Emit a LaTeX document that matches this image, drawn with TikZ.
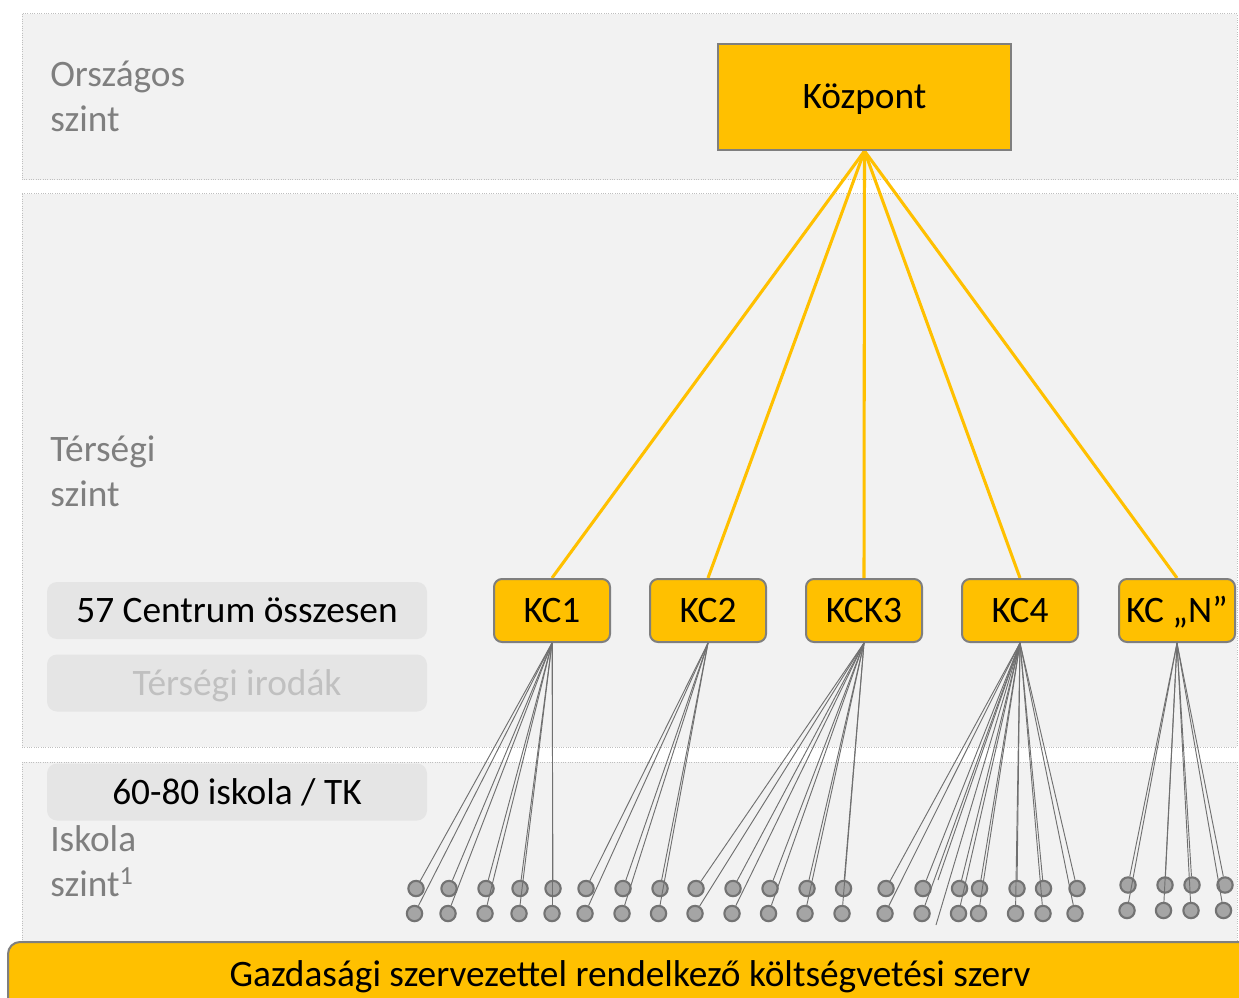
\documentclass[tikz,border=0pt]{standalone}
\usepackage{fontspec}
\setmainfont{Carlito}
\definecolor{gold}{HTML}{FFC000}
\definecolor{bandfill}{HTML}{F2F2F2}
\definecolor{banddot}{HTML}{BFBFBF}
\definecolor{boxgray}{HTML}{E5E5E5}
\definecolor{lblgray}{HTML}{7F7F7F}
\definecolor{lightlbl}{HTML}{C0C0C0}
\definecolor{edgegray}{HTML}{7F7F7F}
\definecolor{dotfill}{HTML}{A5A5A5}
\definecolor{dotedge}{HTML}{737373}
\definecolor{twiggray}{HTML}{707070}
\pgfdeclarelayer{bglayer}
\pgfdeclarelayer{midlayer}
\pgfsetlayers{bglayer,midlayer,main}
\tikzset{
  band/.style={fill=bandfill, draw=banddot, densely dotted, line width=0.75pt},
  bigfont/.style={font=\fontsize{28}{34}\selectfont},
  boxtext/.style={bigfont, text height=18pt, text depth=0pt, inner sep=0pt},
  hubbox/.style={boxtext, draw=edgegray, fill=gold, line width=1.5pt, minimum width=219.75pt, minimum height=79.5pt},
  kcbox/.style={boxtext, draw=edgegray, fill=gold, line width=1.5pt, rounded corners=6pt, minimum width=87pt, minimum height=47.25pt},
  infobox/.style={boxtext, fill=boxgray, rounded corners=7.5pt, minimum width=285pt, minimum height=42.75pt},
  levellbl/.style={bigfont, text=lblgray, anchor=base west, inner sep=0pt},
  trunk/.style={draw=gold, line width=2.3pt},
  twig/.style={draw=twiggray, line width=0.7pt},
  school/.style={circle, draw=dotedge, fill=dotfill, line width=1.6pt, minimum size=11.5pt, inner sep=0pt},
  barbox/.style={draw=edgegray, fill=gold, line width=1.5pt, rounded corners=9pt, minimum width=933pt, minimum height=58.5pt, inner sep=0pt}
}
\begin{document}
\begin{tikzpicture}[x=0.75pt,y=-0.75pt]
\useasboundingbox (0,0) rectangle (1239,998);
\begin{pgfonlayer}{bglayer}
\fill[white] (0,0) rectangle (1239,998);
\draw[band] (22,14) rectangle (1237,180);
\draw[band] (22,194) rectangle (1237,747);
\draw[band] (22,762) rectangle (1237,952);
\end{pgfonlayer}
% level labels
\node[levellbl] (lo1) at (50,87) {Országos};
\node[levellbl] (lo2) at (50,131.5) {szint};
\node[levellbl] (lt1) at (50,461) {Térségi};
\node[levellbl] (lt2) at (50,506) {szint};
\node[levellbl] (li1) at (50,851.5) {Iskola};
\node[levellbl] (li2) at (50,896.5) {szint\textsuperscript{1}};
% info boxes
\node[infobox] (ib1) at (237,610.5) {57 Centrum összesen};
\node[infobox, text=lightlbl] (ib2) at (237,683) {Térségi irodák};
\node[infobox] (ib3) at (237,792) {60-80 iskola / TK};
% central and centres
\node[hubbox] (kp) at (864.5,97) {Központ};
\node[kcbox] (kc1) at (552,610.5) {KC1};
\node[kcbox] (kc2) at (708,610.5) {KC2};
\node[kcbox] (kc3) at (864,610.5) {KCK3};
\node[kcbox] (kc4) at (1020,610.5) {KC4};
\node[kcbox] (kcn) at (1177,610.5) {KC „N”};
\begin{pgfonlayer}{midlayer}
\foreach \k in {kc1,kc2,kc3,kc4,kcn} \draw[trunk] (kp.south) -- (\k.north);
\end{pgfonlayer}
% schools
\foreach \n/\x/\y in {
  a1/416/888.5, a2/449/888.5, a3/486/888.5, a4/520/888.5, a5/553/888.5,
  a6/414.5/913.5, a7/448/913.5, a8/485/913.5, a9/519/913.5, a10/552/913.5,
  b1/586/888.5, b2/623/888.5, b3/660/888.5,
  b4/585/913.5, b5/622/913.5, b6/658.5/913.5,
  c1/696/888.5, c2/733/888.5, c3/770/888.5, c4/807/888.5, c5/843.5/888.5,
  c6/695/913.5, c7/732/913.5, c8/768.5/913.5, c9/805/913.5, c10/842/913.5,
  d1/886/888.5, d2/923/888.5, d3/959.5/888.5, d4/979.5/888.5, d5/1017/888.5, d6/1043.5/888.5, d7/1077/888.5,
  d8/885/913.5, d9/922/913.5, d10/958.5/913.5, d11/978.5/913.5, d12/1015.5/913.5, d13/1043/913.5, d14/1075/913.5,
  e1/1128/885, e2/1165/885, e3/1192/885, e4/1225/885,
  e5/1127/910.5, e6/1163.5/910.5, e7/1191/910.5, e8/1223.5/910.5}
  \node[school] (\n) at (\x,\y) {};
\coordinate (stray1) at (936,925);
\coordinate (stray2) at (938,880);
\foreach \n in {a1,a2,a3,a4,a5,a6,a7,a8,a9,a10} \draw[twig] (kc1.south) -- (\n);
\foreach \n in {b1,b2,b3,b4,b5,b6} \draw[twig] (kc2.south) -- (\n);
\foreach \n in {c1,c2,c3,c4,c5,c6,c7,c8,c9,c10} \draw[twig] (kc3.south) -- (\n);
\foreach \n in {d1,d2,d3,d4,d5,d6,d7,d8,d9,d10,d11,d12,d13,d14,stray1,stray2} \draw[twig] (kc4.south) -- (\n);
\foreach \n in {e1,e2,e3,e4,e5,e6,e7,e8} \draw[twig] (kcn.south) -- (\n);
% bottom bar
\node[barbox] (bar) at (630,981) {};
\node[bigfont, anchor=base, inner sep=0pt] (bartext) at (630,986) {Gazdasági szervezettel rendelkező költségvetési szerv};
\end{tikzpicture}
\end{document}
